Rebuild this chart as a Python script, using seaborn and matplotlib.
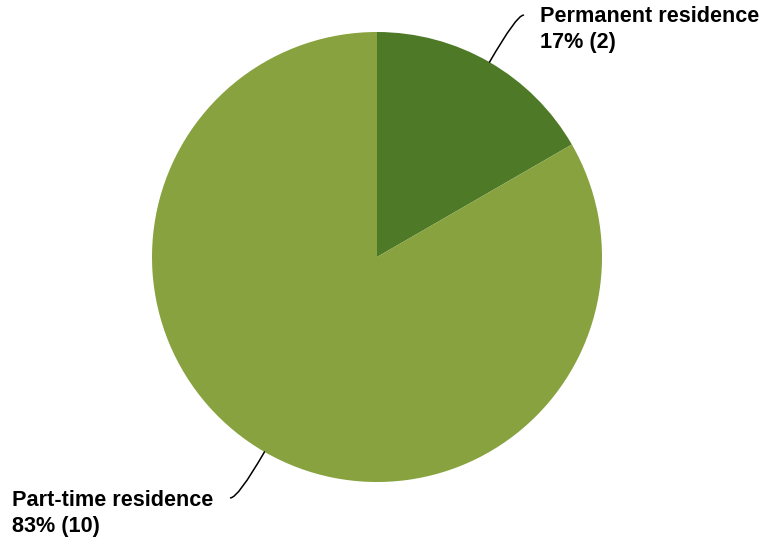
import numpy as np
import matplotlib
matplotlib.use("Agg")
import matplotlib.pyplot as plt
import seaborn as sns

# Residence type of respondents
categories = ["Permanent residence", "Part-time residence"]
counts = [2, 10]
colors = ["#4E7A27", "#87A23E"]

sns.set_theme(style="white")
plt.rcParams["font.family"] = ["Liberation Sans", "DejaVu Sans"]

W, H = 764, 539
fig = plt.figure(figsize=(W / 100, H / 100), dpi=100)
ax = fig.add_axes([0, 0, 1, 1])

center = (377, H - 257)
radius = 225
wedges, _ = ax.pie(counts, colors=colors, startangle=90, counterclock=False,
                   center=center, radius=radius, frame=True,
                   wedgeprops=dict(linewidth=0))
ax.set_xlim(0, W)
ax.set_ylim(0, H)
ax.set_aspect("equal")
ax.axis("off")

total = sum(counts)
pcts = [round(100 * c / total) for c in counts]

# label placement: last-line baseline anchor and connector end offset from the wedge edge
label_cfg = [
    dict(text_xy=(540, H - 48.3), end_off=(34, 47)),
    dict(text_xy=(12, H - 531.7), end_off=(-34, -46)),
]

for w, cat, cnt, pct, cfg in zip(wedges, categories, counts, pcts, label_cfg):
    mid_deg = (w.theta1 + w.theta2) / 2
    mid = np.deg2rad(mid_deg)
    ex = center[0] + radius * np.cos(mid)
    ey = center[1] + radius * np.sin(mid)
    end = (ex + cfg["end_off"][0], ey + cfg["end_off"][1])
    # leader runs radially out of the wedge and bends to horizontal at the label
    ax.annotate("", xy=(ex, ey), xytext=end,
                arrowprops=dict(arrowstyle="-", color="black", lw=1.1,
                                shrinkA=0, shrinkB=0,
                                connectionstyle=f"angle3,angleA=0,angleB={mid_deg}"))
    ax.text(cfg["text_xy"][0], cfg["text_xy"][1], f"{cat}\n{pct}% ({cnt})",
            ha="left", va="baseline", fontsize=15.6, fontweight="bold",
            color="black", linespacing=1.3)

fig.savefig("out.png", dpi=100)
